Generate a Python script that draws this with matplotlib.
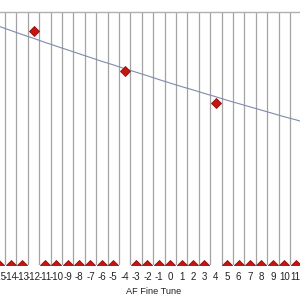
import matplotlib
matplotlib.use('Agg')
import matplotlib.pyplot as plt
import numpy as np

# AF fine tune categories (the chart is cropped at both sides)
categories = list(range(-16, 13))
# measured sharpness; 0 where nothing was recorded
tested = {-12: 92.5, -4: 76.7, 4: 64.0}
values = [tested.get(c, 0) for c in categories]
# trend curve, one value per category
trend = [95.9, 94.3, 92.7, 91.1, 89.6, 88.0, 86.5, 85.0, 83.5, 82.0, 80.5,
         79.1, 77.6, 76.2, 74.8, 73.3, 71.9, 70.5, 69.2, 67.8, 66.5, 65.1,
         63.8, 62.5, 61.2, 59.9, 58.6, 57.4, 56.1]
labels = [str(c) for c in categories]

plt.rcParams['font.family'] = ['Liberation Sans', 'DejaVu Sans']

fig = plt.figure(figsize=(3, 3), dpi=100)
# axes wider than the figure: the original chart is cropped on both sides
ax = fig.add_axes([-0.2, 1 - 265 / 300, 1.4, 253 / 300])

ax.plot(categories, trend, color='#7f8bab', lw=0.8, zorder=2)
ax.plot(categories, values, linestyle='none', marker='D', markersize=4.8,
        markerfacecolor='#c8140e', markeredgecolor='#8c1010',
        markeredgewidth=0.6, zorder=3)

ax.set_xticks(categories)
ax.set_xticklabels(labels, fontsize=7, color='#222222')
ax.set_xticks(np.array(categories) + 0.5, minor=True)
ax.tick_params(axis='x', which='both', length=0, pad=5)
ax.grid(True, axis='x', which='minor', color='#a3a3a3', lw=0.9)
ax.set_yticks([])

# limits after the ticks, so the view is not widened again
px = 11.4  # pixels per category
ax.set_xlim(-14.94 - 60 / px, 11.38 + 60 / px)
ax.set_ylim(0, 100)

for side in ['left', 'right', 'bottom']:
    ax.spines[side].set_visible(False)
ax.spines['top'].set_color('#b0b0b0')
ax.spines['top'].set_linewidth(1.0)

ax.set_xlabel('AF Fine Tune', fontsize=6.6, color='#222222')
ax.xaxis.set_label_coords((154 + 60) / 420, -21.5 / 253)

fig.savefig('out.png', dpi=100)
